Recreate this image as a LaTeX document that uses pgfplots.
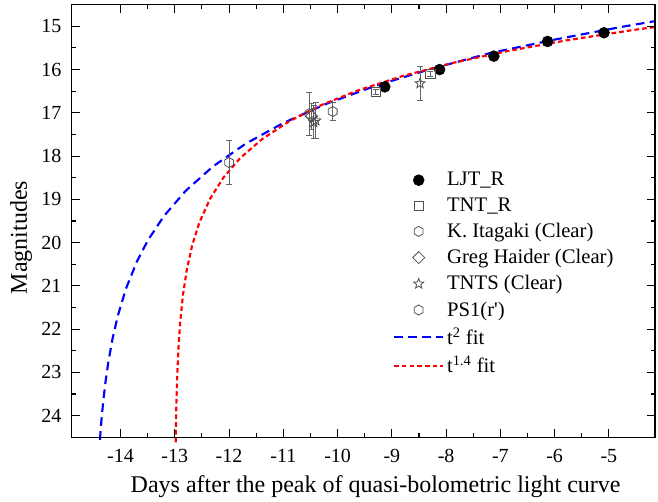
\documentclass[border=0pt]{standalone}
\usepackage{fontspec}
\setmainfont{Liberation Serif}[Ligatures=TeXOff]
\usepackage{pgfplots}
\pgfplotsset{compat=1.18}

% open hexagon, pointed at top and bottom
\pgfdeclareplotmark{hexagon}{%
  \pgfpathmoveto{\pgfpointpolar{90}{\pgfplotmarksize}}%
  \pgfpathlineto{\pgfpointpolar{150}{\pgfplotmarksize}}%
  \pgfpathlineto{\pgfpointpolar{210}{\pgfplotmarksize}}%
  \pgfpathlineto{\pgfpointpolar{270}{\pgfplotmarksize}}%
  \pgfpathlineto{\pgfpointpolar{330}{\pgfplotmarksize}}%
  \pgfpathlineto{\pgfpointpolar{30}{\pgfplotmarksize}}%
  \pgfpathclose
  \pgfusepathqstroke
}
% open five-pointed star
\pgfdeclareplotmark{ostar}{%
  \pgfpathmoveto{\pgfpointpolar{90}{\pgfplotmarksize}}%
  \pgfpathlineto{\pgfpointpolar{126}{0.42\pgfplotmarksize}}%
  \pgfpathlineto{\pgfpointpolar{162}{\pgfplotmarksize}}%
  \pgfpathlineto{\pgfpointpolar{198}{0.42\pgfplotmarksize}}%
  \pgfpathlineto{\pgfpointpolar{234}{\pgfplotmarksize}}%
  \pgfpathlineto{\pgfpointpolar{270}{0.42\pgfplotmarksize}}%
  \pgfpathlineto{\pgfpointpolar{306}{\pgfplotmarksize}}%
  \pgfpathlineto{\pgfpointpolar{342}{0.42\pgfplotmarksize}}%
  \pgfpathlineto{\pgfpointpolar{18}{\pgfplotmarksize}}%
  \pgfpathlineto{\pgfpointpolar{54}{0.42\pgfplotmarksize}}%
  \pgfpathclose
  \pgfusepathqstroke
}

\definecolor{markgray}{RGB}{80,80,80}
\definecolor{bargray}{RGB}{100,100,100}

\pgfplotsset{
  obs/.style={only marks, draw=markgray, line width=0.6pt,
    /pgfplots/error bars/y dir=both,
    /pgfplots/error bars/y explicit,
    /pgfplots/error bars/error bar style={bargray, line width=0.7pt},
    /pgfplots/error bars/error mark options={bargray, line width=0.7pt, rotate=90, mark size=2.2pt}},
}

\begin{document}
\begin{tikzpicture}
\begin{axis}[
  name=ax,
  set layers,
  scale only axis, width=437.5pt, height=324.5pt,
  xmin=-14.9, xmax=-4.15, ymin=14.5, ymax=24.5, y dir=reverse,
  xtick={-14,...,-5}, ytick={15,...,24},
  minor x tick num=1, minor y tick num=1,
  tick align=inside,
  major tick length=6pt, minor tick length=3pt,
  tick style={black, line width=0.8pt},
  axis line style={line width=1pt},
  /pgf/number format/assume math mode=true,
  tick label style={font=\fontsize{15}{18}\selectfont},
  xticklabel style={anchor=base, yshift=-19pt},
  yticklabel style={anchor=east, inner sep=0pt, xshift=-7.5pt},
  xlabel={Days after the peak of quasi-bolometric light curve},
  ylabel={Magnitudes},
  xlabel style={font=\fontsize{18}{21}\selectfont, at={(axis description cs:0.521,-0.1272)}, anchor=base},
  ylabel style={font=\fontsize{18}{21}\selectfont, at={(axis description cs:-0.0869,0.462)}, anchor=center},
  legend style={draw=none, fill=none, font=\fontsize{15.5}{18.5}\selectfont,
    at={(axis description cs:0.5503,0.619)}, anchor=north west, inner sep=0pt,
    row sep=3.4pt, nodes={inner xsep=2pt, inner ysep=2pt}},
  legend cell align=left,
  legend image code/.code={\draw[mark repeat=2,mark phase=2,#1] plot coordinates {(0pt,0pt) (18.5pt,0pt) (37pt,0pt)};},
]

% LJT R band
\addplot[only marks, mark=*, mark size=4.1pt, black] coordinates {
  (-9.13,16.40) (-8.12,16.00) (-7.12,15.69) (-6.13,15.35) (-5.09,15.15)};
\addlegendentry{LJT\_R}

% TNT R band
\addplot[obs, mark=square, mark size=3.4pt] coordinates {
  (-9.30,16.52) +- (0,0.06)
  (-8.29,16.10) +- (0,0.06)};
\addlegendentry{TNT\_R}

% K. Itagaki, clear filter
\addplot[obs, mark=hexagon, mark size=3.8pt] coordinates {
  (-10.52,17.02) +- (0,0.50)
  (-10.09,16.97) +- (0,0.20)};
\addlegendentry{K. Itagaki (Clear)}

% Greg Haider, clear filter (square turned by 45 degrees)
\addplot[obs, mark=square, mark size=3.2pt, mark options={rotate=45}] coordinates {
  (-10.48,17.08) +- (0,0.30)};
\addlegendentry{Greg Haider (Clear)}

% TNTS, clear filter
\addplot[obs, mark=ostar, mark size=4pt] coordinates {
  (-10.44,17.22) +- (0,0.38)
  (-10.40,17.18) +- (0,0.42)
  (-8.48,16.32) +- (0,0.40)};
\addlegendentry{TNTS (Clear)}

% PS1 r'
\addplot[obs, mark=hexagon, mark size=3.8pt] coordinates {
  (-12.00,18.15) +- (0,0.50)};
\addlegendentry{PS1(r')}

% t^2 fireball fit
\addplot[on layer=axis background, blue, line width=1.6pt, dash pattern=on 6.5pt off 4pt] coordinates {
  (-14.38,24.559) (-14.37,24.386) (-14.35,24.075) (-14.32,23.679) (-14.28,23.243)
  (-14.23,22.798) (-14.15,22.234) (-14.05,21.689) (-13.90,21.064) (-13.70,20.440)
  (-13.50,19.955) (-13.20,19.385) (-12.80,18.803) (-12.30,18.243) (-11.70,17.719)
  (-11.00,17.235) (-10.20,16.788) (-9.30,16.375) (-8.30,15.993) (-7.20,15.623)
  (-6.00,15.308) (-4.80,15.021) (-4.15,14.881)};
\addlegendentry{t\textsuperscript{2} fit}

% t^1.4 fit
\addplot[on layer=axis background, red, line width=1.6pt, dash pattern=on 3.5pt off 2.3pt] coordinates {
  (-12.984,24.616) (-12.980,24.277) (-12.970,23.660) (-12.955,23.044) (-12.930,22.372)
  (-12.900,21.830) (-12.850,21.214) (-12.780,20.632) (-12.680,20.062) (-12.550,19.544)
  (-12.350,18.985) (-12.100,18.490) (-11.800,18.053) (-11.400,17.616) (-10.900,17.202)
  (-10.300,16.820) (-9.600,16.470) (-8.800,16.149) (-7.900,15.853) (-6.900,15.581)
  (-5.800,15.329) (-4.600,15.095) (-4.150,15.016)};
\addlegendentry{t\textsuperscript{1.4} fit}

\end{axis}
\pgfresetboundingbox
\path (ax.south west) ++(-53.8pt,-48.5pt) rectangle ([shift={(2.25pt,3.5pt)}]ax.north east);
\end{tikzpicture}
\end{document}
